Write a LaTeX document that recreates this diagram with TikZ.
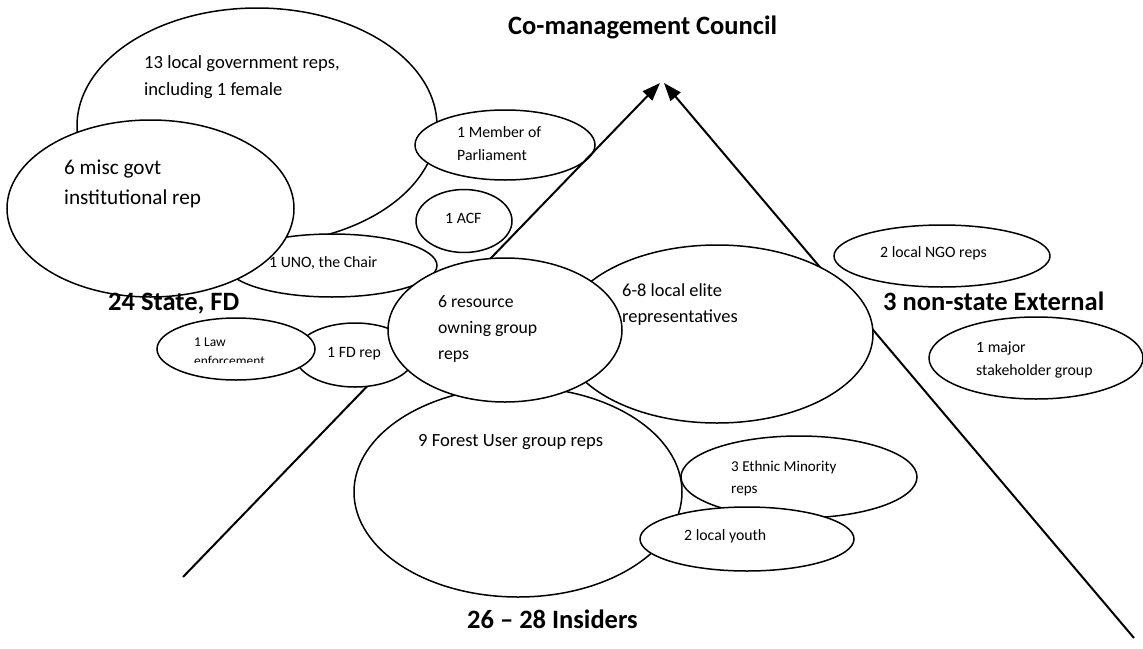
\documentclass[tikz,border=0pt]{standalone}
\usepackage{fontspec}
\setmainfont{Carlito}
\usetikzlibrary{shapes.geometric,arrows.meta}

\begin{document}
\begin{tikzpicture}[x=1pt,y=-1pt,
    blob/.style={draw, ellipse, fill=white, line width=1.5pt, inner sep=0pt},
    txt/.style={anchor=base west, inner sep=0pt, align=left},
    small/.style={txt, font=\fontsize{15.8}{22.5}\selectfont},
    head/.style={anchor=base west, inner sep=0pt, font=\bfseries\fontsize{26.5}{32}\selectfont},
    arr/.style={line width=2pt, -{Triangle[length=18pt,width=13pt]}}
]
    \useasboundingbox (0,0) rectangle (1143,648);

    % State side: local government, UNO, misc govt
    % (multi-line texts are placed by the baseline of their last line)
    \node[blob, minimum width=360pt, minimum height=236pt] (gov) at (257,126) {};
    \node[txt, font=\fontsize{18.6}{27}\selectfont] (govtxt) at (144,95) {13 local government reps,\\including 1 female};
    \node[blob, minimum width=210pt, minimum height=63pt] (uno) at (332,265.5) {};
    \node[small] (unotxt) at (269,267) {1 UNO, the Chair};
    \node[blob, minimum width=287pt, minimum height=177pt] (misc) at (150.5,208.5) {};
    \node[txt, font=\fontsize{21.2}{29.5}\selectfont] (misctxt) at (64,204) {6 misc govt\\institutional rep};

    % Member of Parliament and ACF
    \node[blob, minimum width=180pt, minimum height=70pt] (mp) at (505,145) {};
    \node[small] (mptxt) at (457,160) {1 Member of\\Parliament};
    \node[blob, minimum width=96pt, minimum height=63pt] (acf) at (464,221) {};
    \node[small] (acftxt) at (445,223) {1 ACF};

    % The two arrows up to the council
    \coordinate (lfoot) at (183,577);
    \coordinate (rfoot) at (1134,638);
    \coordinate (ltip) at (660,83);
    \coordinate (rtip) at (664,83);
    \draw[arr] (lfoot) -- (ltip);
    \draw[arr] (rfoot) -- (rtip);

    % FD rep and law enforcement
    \node[blob, minimum width=120pt, minimum height=64pt] (fd) at (355,355) {};
    \node[small] (fdtxt) at (327,357) {1 FD rep};
    \node[blob, minimum width=158pt, minimum height=62pt] (law) at (236,349) {};
    \begin{scope}
        \clip (157,318) rectangle (315,362.5);
        \node[txt, font=\fontsize{13.5}{19}\selectfont] (lawtxt) at (194,365) {1 Law\\enforcement};
    \end{scope}

    % Insiders
    \node[blob, minimum width=312pt, minimum height=178pt] (elite) at (717,334) {};
    \node[txt, font=\fontsize{18.4}{26}\selectfont] (elitetxt) at (622,322) {6-8 local elite\\representatives};
    \node[blob, minimum width=328pt, minimum height=210pt] (forest) at (518,492) {};
    \node[txt, font=\fontsize{18.6}{26}\selectfont] (foresttxt) at (418,446) {9 Forest User group reps};
    \node[blob, minimum width=234pt, minimum height=144pt] (res) at (505,330) {};
    \node[txt, font=\fontsize{17.7}{26}\selectfont] (restxt) at (438,359) {6 resource\\owning group\\reps};
    \node[blob, minimum width=236pt, minimum height=82pt] (ethnic) at (799,477) {};
    \node[txt, font=\fontsize{15.1}{21.5}\selectfont] (ethnictxt) at (731,493) {3 Ethnic Minority\\reps};
    \node[blob, minimum width=214pt, minimum height=64pt] (youth) at (747,539) {};
    \node[small] (youthtxt) at (684,540) {2 local youth};

    % Non-state external
    \node[blob, minimum width=216pt, minimum height=62pt] (ngo) at (942,256) {};
    \node[small] (ngotxt) at (880,257) {2 local NGO reps};
    \node[blob, minimum width=214pt, minimum height=82pt] (major) at (1036,358) {};
    \node[small, font=\fontsize{15.8}{23}\selectfont] (majortxt) at (976,375) {1 major\\stakeholder group};

    % Headings
    \node[head] (council) at (508,34) {Co-management Council};
    \node[head] (state) at (108,310) {24 State, FD};
    \node[head] (external) at (883,310) {3 non-state External};
    \node[head] (insiders) at (467,628) {26 – 28 Insiders};
\end{tikzpicture}
\end{document}
